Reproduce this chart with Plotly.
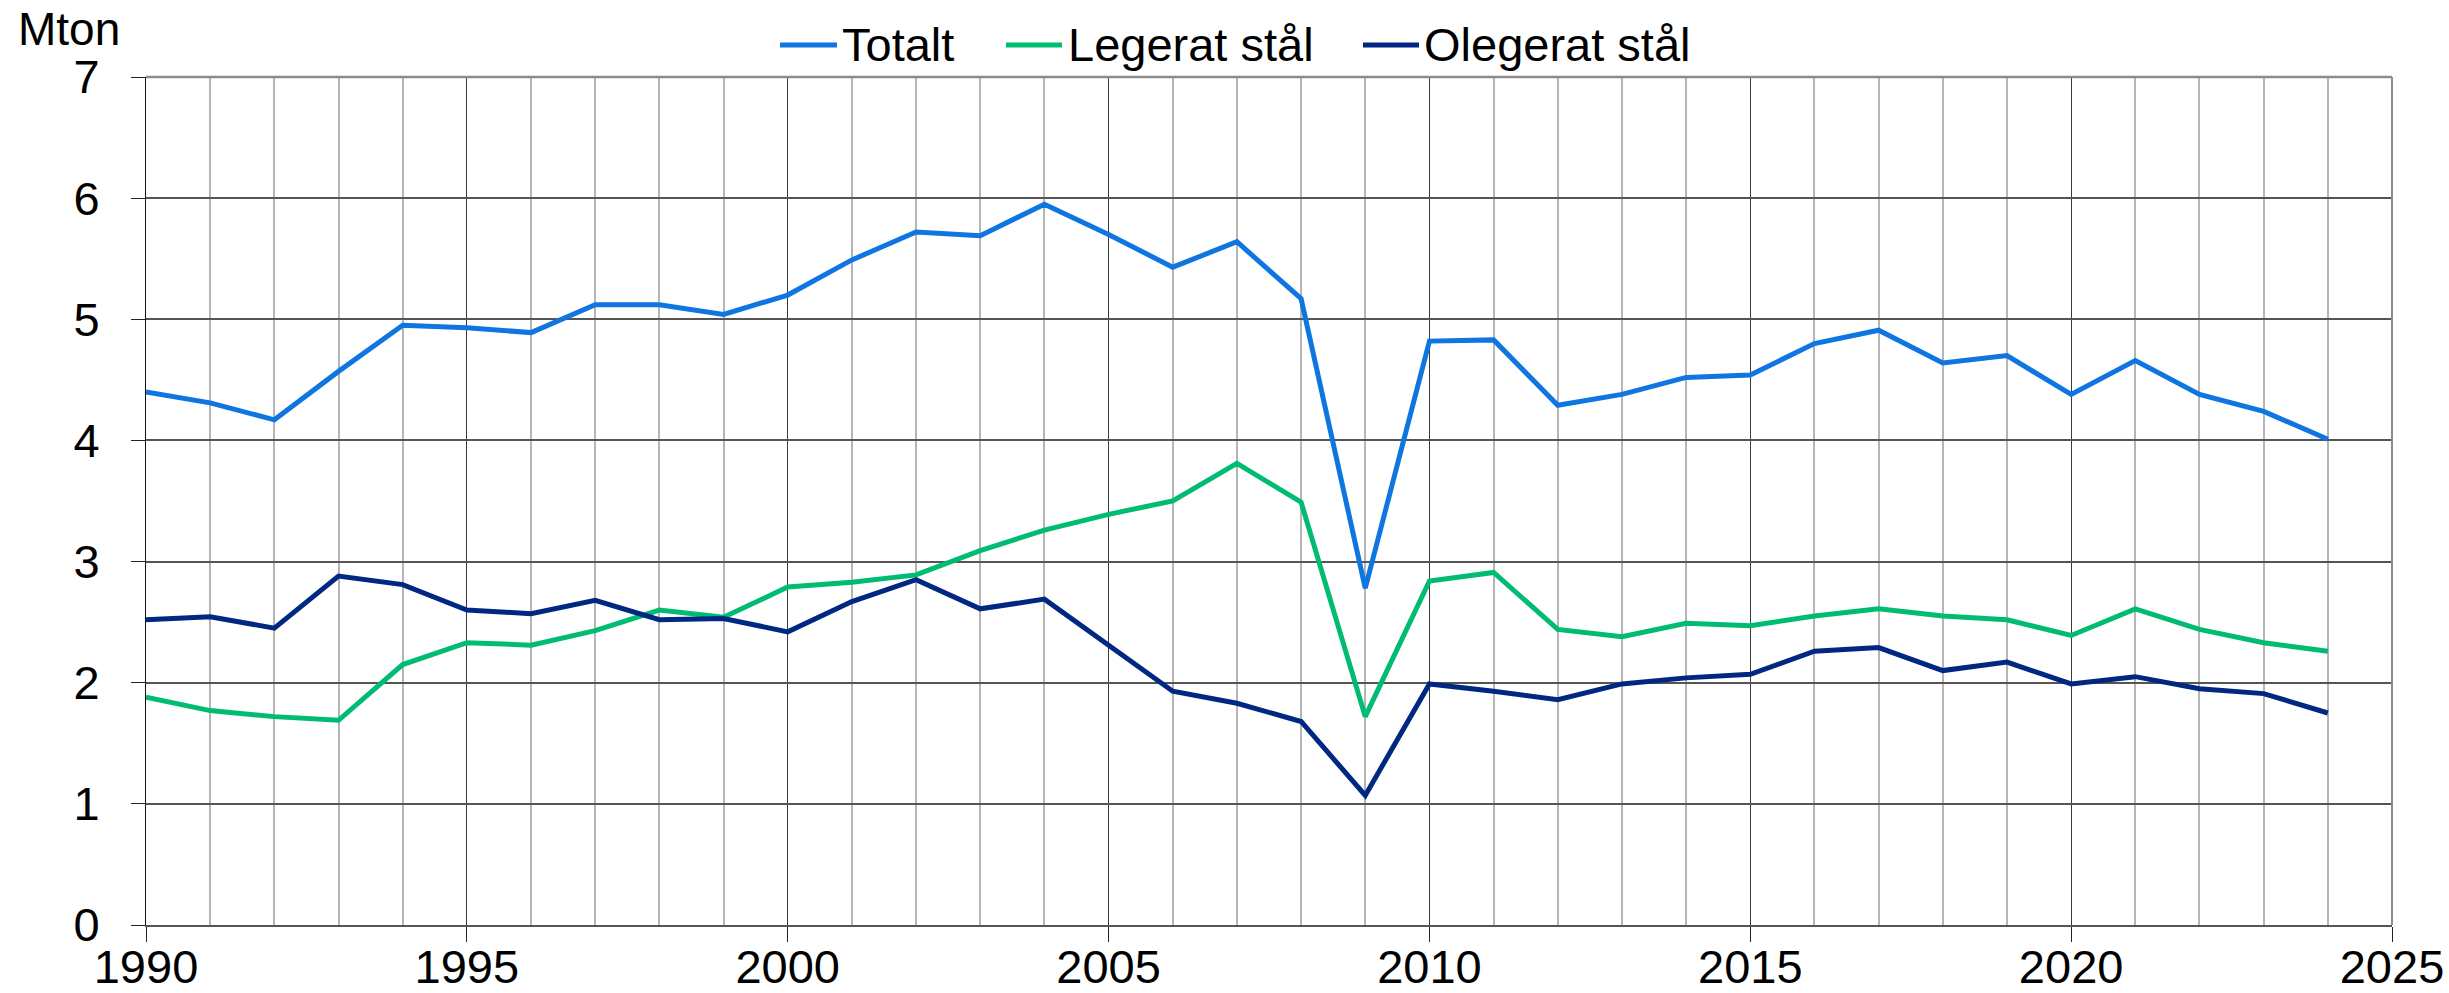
import plotly.graph_objects as go

years = list(range(1990, 2025))

totalt = [4.40, 4.31, 4.17, 4.57, 4.95, 4.93, 4.89, 5.12, 5.12, 5.04,
          5.20, 5.49, 5.72, 5.69, 5.95, 5.70, 5.43, 5.64, 5.17, 2.78,
          4.82, 4.83, 4.29, 4.38, 4.52, 4.54, 4.80, 4.91, 4.64, 4.70,
          4.38, 4.66, 4.38, 4.24, 4.01]

legerat = [1.88, 1.77, 1.72, 1.69, 2.15, 2.33, 2.31, 2.43, 2.60, 2.54,
           2.79, 2.83, 2.89, 3.09, 3.26, 3.39, 3.50, 3.81, 3.49, 1.72,
           2.84, 2.91, 2.44, 2.38, 2.49, 2.47, 2.55, 2.61, 2.55, 2.52,
           2.39, 2.61, 2.44, 2.33, 2.26]

olegerat = [2.52, 2.545, 2.45, 2.88, 2.81, 2.60, 2.57, 2.68, 2.52, 2.53,
            2.42, 2.67, 2.85, 2.61, 2.69, 2.31, 1.93, 1.83, 1.68, 1.07,
            1.99, 1.93, 1.86, 1.99, 2.04, 2.07, 2.26, 2.29, 2.10, 2.17,
            1.99, 2.05, 1.95, 1.91, 1.75]

series = [
    ("Totalt", totalt, "#0f75e0"),
    ("Legerat stål", legerat, "#00bc72"),
    ("Olegerat stål", olegerat, "#002882"),
]

FONT = "Liberation Sans, Arial, sans-serif"
FS = 47

# plot area in page pixels (used to place legend and unit label)
L, R, T, B = 146, 2392, 77, 925
def px(x):
    return (x - L) / (R - L)
def py(y):
    return (B - y) / (B - T)

fig = go.Figure()
for name, vals, col in series:
    fig.add_trace(go.Scatter(x=years, y=vals, name=name, mode="lines",
                             line=dict(color=col, width=5), showlegend=False))

fig.update_xaxes(
    range=[1990, 2025], dtick=5, tick0=1990,
    showgrid=True, gridcolor="#3a3a3a", gridwidth=1,
    minor=dict(dtick=1, tick0=1990, showgrid=True, gridcolor="#b5b5b5", gridwidth=2),
    ticks="outside", ticklen=15, tickcolor="#222", tickwidth=1,
    showline=True, linecolor="#555", linewidth=2,
    tickfont=dict(size=FS, color="#000", family=FONT),
    ticklabelstandoff=-15,
    zeroline=False, automargin=False,
)
fig.update_yaxes(
    range=[0, 7], dtick=1,
    showgrid=True, gridcolor="#555", gridwidth=1.5,
    ticks="outside", ticklen=14, tickcolor="#222", tickwidth=1,
    showline=True, linecolor="#111", linewidth=1,
    tickfont=dict(size=FS, color="#000", family=FONT),
    ticklabelstandoff=22,
    zeroline=False, automargin=False,
)

# top and right frame
fig.add_shape(type="line", xref="x domain", yref="y domain", x0=0, x1=1, y0=1, y1=1,
              line=dict(color="#8c8c8c", width=2.5))
fig.add_shape(type="line", xref="x domain", yref="y domain", x0=1, x1=1, y0=0, y1=1,
              line=dict(color="#8c8c8c", width=2))

# legend drawn by hand so the sample lines are as long as in the original
legend_pos = [(780, 837, 840), (1006, 1062, 1066), (1363, 1419, 1422)]
for (name, _, col), (a, b, t) in zip(series, legend_pos):
    fig.add_shape(type="line", xref="paper", yref="paper",
                  x0=px(a), x1=px(b), y0=py(45), y1=py(45),
                  line=dict(color=col, width=5))
    fig.add_annotation(text=name, xref="paper", yref="paper", x=px(t), y=py(44),
                       xanchor="left", yanchor="middle", showarrow=False,
                       font=dict(size=FS, color="#000", family=FONT))

fig.add_annotation(text="Mton", xref="paper", yref="paper", x=px(16), y=py(29),
                   xanchor="left", yanchor="middle", showarrow=False,
                   font=dict(size=FS - 1, color="#000", family=FONT))

fig.update_layout(
    width=2449, height=993,
    margin=dict(l=L, r=2449 - R, t=T, b=993 - B, autoexpand=False),
    plot_bgcolor="white", paper_bgcolor="white",
    font=dict(family=FONT, color="#000"),
    showlegend=False,
)

# page body has an 8px default margin; drop it so the figure sits at 0,0
fig.write_html("out.html", config={"displayModeBar": False},
               post_script="document.body.style.margin='0';")
